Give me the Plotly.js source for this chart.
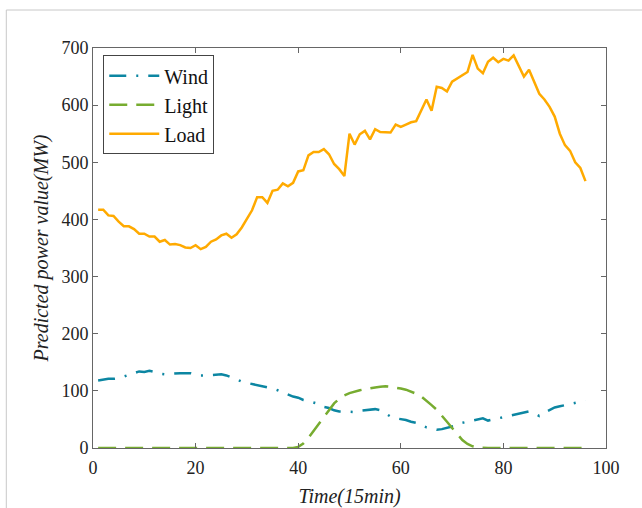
<!DOCTYPE html>
<html>
<head>
<meta charset="utf-8">
<script src="https://cdn.plot.ly/plotly-3.0.1.min.js"></script>
<style>
html,body{margin:0;padding:0;background:#fff;}
#chart{width:642px;height:508px;}
</style>
</head>
<body>
<div id="chart"></div>
<script>
// Time index (15-min intervals), 1..96
var timeSteps = [];
for (var i = 1; i <= 96; i++) timeSteps.push(i);

var windValues = [118,120,121,121,122,125,128,132,134,133,135,133,130,129,130,131,131,131,131,129,
  127,127,128,129,129,127,124,120,116,114,113,111,109,107,104,101,97,93,90,88,
  84,82,80,77,72,70,66,64,64,63,63,65,66,67,68,66,60,55,52,51,
  49,46,44,40,36,34,32,33,35,37,40,44,46,48,50,52,48,50,52,54,
  56,58,60,62,64,61,56,62,66,71,73,75,77,80,81,83];

var lightValues = [0,0,0,0,0,0,0,0,0,0,0,0,0,0,0,0,0,0,0,0,
  0,0,0,0,0,0,0,0,0,0,0,0,0,0,0,0,0,0,0,2,
  8,18,30,43,55,67,78,86,92,96,99,101,103,105,106,107,108,107,106,104,
  102,99,95,90,83,75,67,57,46,35,24,14,7,3,1,0,0,0,0,0,
  0,0,0,0,0,0,0,0,0,0,0,0,0,0,0,0];

var loadValues = [417,417,407,406,396,388,388,383,375,375,370,370,361,364,356,357,355,351,350,355,
  348,352,361,365,372,375,368,374,386,400,416,439,439,429,450,452,463,458,464,484,
  486,512,518,518,523,514,497,488,476,550,531,549,555,540,558,553,552,552,566,562,
  566,570,572,590,610,590,632,630,624,641,647,652,658,688,664,656,676,683,675,681,
  678,687,668,650,662,640,620,610,597,580,550,530,520,500,490,467];

var seriesNames = ['Wind', 'Light', 'Load'];
var xTicks = [0, 20, 40, 60, 80, 100];
var yTicks = [0, 100, 200, 300, 400, 500, 600, 700];

var serif = 'Liberation Serif, Times New Roman, serif';

var traces = [
  {x: timeSteps, y: windValues, name: seriesNames[0], type: 'scatter', mode: 'lines',
   line: {color: '#0c86a2', width: 2.5, dash: '17px,10px,2px,10px'}},
  {x: timeSteps, y: lightValues, name: seriesNames[1], type: 'scatter', mode: 'lines',
   line: {color: '#77ac30', width: 2.5, dash: '18px,9px'}},
  {x: timeSteps, y: loadValues, name: seriesNames[2], type: 'scatter', mode: 'lines',
   line: {color: '#ffaa00', width: 2.5}}
];

var axisCommon = {
  showgrid: false, zeroline: false, showline: true, linecolor: '#666', linewidth: 1,
  mirror: 'ticks', ticks: 'inside', ticklen: 5, tickcolor: '#666', tickwidth: 1,
  tickfont: {family: serif, size: 18, color: '#222'}
};

var layout = {
  width: 642, height: 508,
  margin: {l: 93, r: 36, t: 48, b: 60},
  paper_bgcolor: '#fff', plot_bgcolor: '#fff',
  showlegend: true,
  legend: {x: 0.02, y: 0.982, xanchor: 'left', yanchor: 'top',
    bgcolor: '#fff', bordercolor: '#444', borderwidth: 1,
    font: {family: serif, size: 20, color: '#111'}, itemwidth: 50, tracegroupgap: 0},
  xaxis: Object.assign({}, axisCommon, {
    range: [0, 100], tickvals: xTicks, ticktext: xTicks.map(String), ticklabelstandoff: 3,
    title: {text: 'Time(15min)', font: {family: serif, size: 20, color: '#222', style: 'italic'}, standoff: 13}
  }),
  yaxis: Object.assign({}, axisCommon, {
    range: [0, 700], tickvals: yTicks, ticktext: yTicks.map(String),
    title: {text: 'Predicted power value(MW)', font: {family: serif, size: 20, color: '#222', style: 'italic'}, standoff: 7}
  }),
  shapes: [{type: 'rect', xref: 'paper', yref: 'paper', x0: -0.169, x1: 1.3, y0: -0.3, y1: 1.095,
    line: {color: '#c8c8c8', width: 1}, fillcolor: 'rgba(0,0,0,0)', layer: 'below'}]
};

Plotly.newPlot('chart', traces, layout, {displayModeBar: false, staticPlot: true});
</script>
</body>
</html>
